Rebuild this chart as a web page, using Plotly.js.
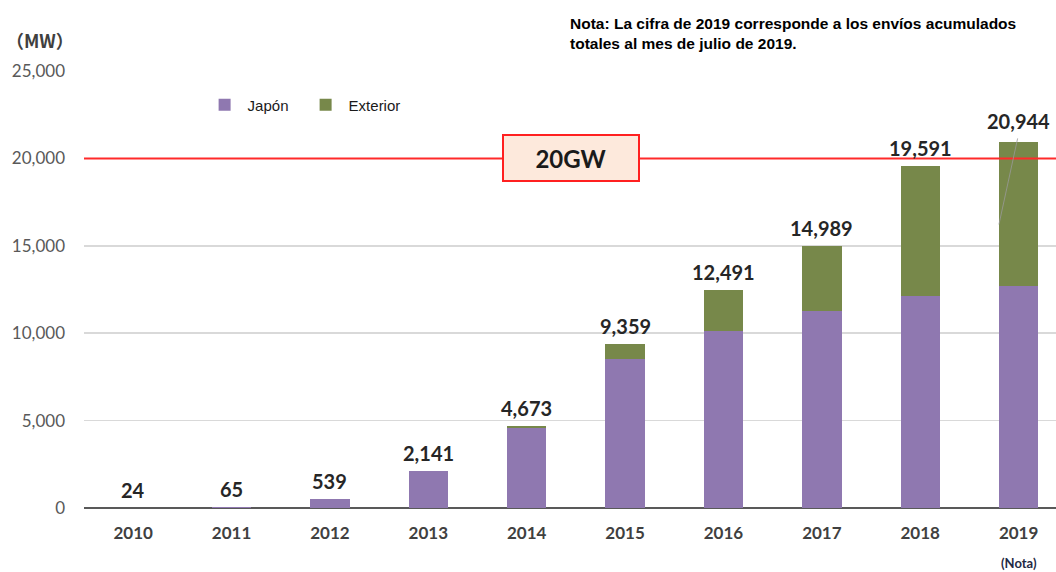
<!DOCTYPE html>
<html>
<head>
<meta charset="utf-8">
<script src="https://cdn.plot.ly/plotly-3.0.1.min.js"></script>
<style>html,body{margin:0;padding:0;background:#fff;}#chart{width:1056px;height:572px;}</style>
</head>
<body>
<div id="chart"></div>
<script>
const years = ['2010','2011','2012','2013','2014','2015','2016','2017','2018','2019'];
const japon = [24, 65, 539, 2141, 4550, 8540, 10140, 11290, 12110, 12720];
const exterior = [0, 0, 0, 0, 123, 819, 2351, 3699, 7481, 8224];
const totals = [24, 65, 539, 2141, 4673, 9359, 12491, 14989, 19591, 20944];
const yTicks = [0, 5000, 10000, 15000, 20000, 25000];
const yTickText = ['0', '5,000', '10,000', '15,000', '20,000', '25,000'];
const target = 20000;

const purple = '#8f78b0';
const green = '#77884a';
const labelFont = 'Lato, "Open Sans", sans-serif';

const traces = [
  {type: 'bar', name: 'Japón', x: years, y: japon, marker: {color: purple}, width: 0.4, hoverinfo: 'skip'},
  {type: 'bar', name: 'Exterior', x: years, y: exterior, marker: {color: green}, width: 0.4, hoverinfo: 'skip'}
];

const annotations = years.map((yr, i) => ({
  x: i, y: totals[i], xref: 'x', yref: 'y',
  text: totals[i].toLocaleString('en-US'),
  showarrow: false, yanchor: 'bottom', yshift: i === 9 ? 7 : 4,
  font: {family: labelFont, size: 20, color: '#262626', weight: 'bold'}
}));

annotations.push(
  {xref: 'paper', yref: 'paper', x: -0.082, y: 1.071, xanchor: 'left', yanchor: 'middle',
   text: '（MW）', showarrow: false,
   font: {family: '"Noto Sans CJK JP", sans-serif', size: 18, color: '#404040', weight: 'bold'}},
  {xref: 'paper', yref: 'paper', x: 0.498, y: 1.04, xanchor: 'left', yanchor: 'bottom', align: 'left',
   text: 'Nota: La cifra de 2019 corresponde a los envíos acumulados<br>totales al mes de julio de 2019.',
   showarrow: false,
   font: {family: '"Liberation Sans", Arial, sans-serif', size: 15.5, color: '#000', weight: 'bold'}},
  {x: 4.45, y: target, xref: 'x', yref: 'y',
   text: '20GW', showarrow: false,
   bgcolor: '#fde9dc', bordercolor: '#ff2020', borderwidth: 2, borderpad: 8,
   width: 118, height: 28,
   font: {family: labelFont, size: 24, color: '#1a1a1a', weight: 'bold'}},
  {xref: 'x', yref: 'paper', x: 9, y: -0.103, yanchor: 'top',
   text: '(Nota)', showarrow: false,
   font: {family: labelFont, size: 13, color: '#1f2a44', weight: 'bold'}}
);

const shapes = [
  {type: 'line', xref: 'paper', yref: 'y', x0: 0, x1: 1, y0: target, y1: target,
   line: {color: '#ff2a2a', width: 2}, layer: 'above'},
  {type: 'line', xref: 'x', yref: 'y', x0: 8.99, x1: 8.8, y0: totals[9] + 200, y1: japon[9] + 3500,
   line: {color: '#999999', width: 0.8}, layer: 'above'}
];

const layout = {
  width: 1056, height: 572,
  margin: {l: 84, r: 0, t: 71, b: 64},
  paper_bgcolor: '#ffffff', plot_bgcolor: '#ffffff',
  barmode: 'stack',
  showlegend: true,
  legend: {orientation: 'h', x: 0.121, y: 0.922, xanchor: 'left', yanchor: 'middle',
           entrywidth: 50, itemwidth: 36, traceorder: 'normal',
           font: {family: '"Liberation Sans", Arial, sans-serif', size: 15, color: '#1a1a1a'}},
  xaxis: {type: 'category', range: [-0.5, 9.38], showgrid: false, showline: false, ticks: '',
          tickfont: {family: labelFont, size: 17, color: '#404040', weight: 'bold'}, ticklabelstandoff: 13,
          fixedrange: true},
  yaxis: {range: [0, 25000], tickvals: yTicks, ticktext: yTickText, showgrid: true,
          gridcolor: '#d9d9d9', gridwidth: 1.5, zeroline: true, zerolinecolor: '#595959', zerolinewidth: 1.5,
          showline: false, ticks: '', ticklabelstandoff: 18,
          tickfont: {family: labelFont, size: 17, color: '#595959'}, fixedrange: true},
  annotations: annotations,
  shapes: shapes
};

Plotly.newPlot('chart', traces, layout, {displayModeBar: false, staticPlot: true});
</script>
</body>
</html>
